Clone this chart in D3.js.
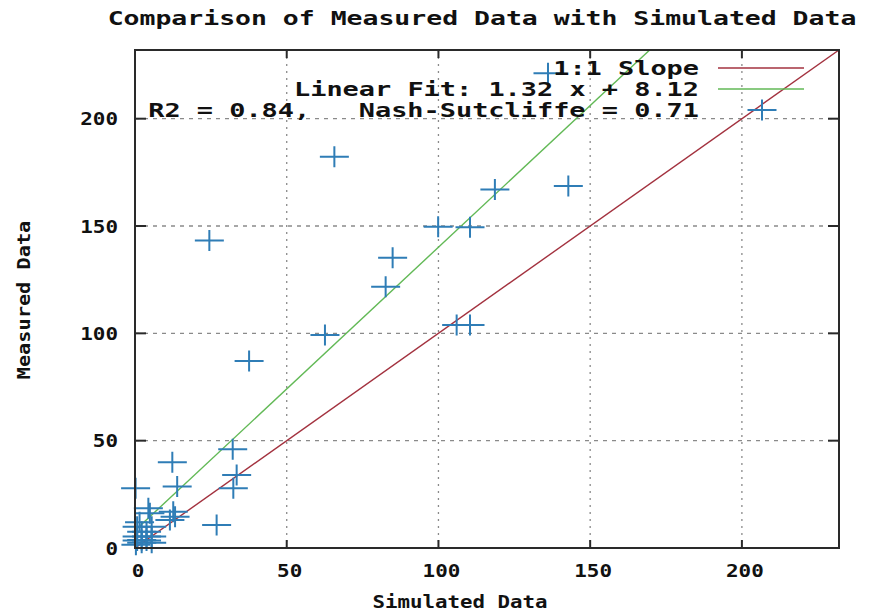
<!DOCTYPE html>
<html><head><meta charset="utf-8">
<script src="https://cdn.jsdelivr.net/npm/d3@7"></script>
<style>body{margin:0;background:#fff}text{font-family:"DejaVu Sans Mono",monospace;font-weight:bold;fill:#111;white-space:pre}</style>
</head><body><svg id="c" width="870" height="612"></svg>
<script>
const titleText = "Comparison of Measured Data with Simulated Data";
const xLabel = "Simulated Data";
const yLabel = "Measured Data";
const xTicks = [0, 50, 100, 150, 200];
const yTicks = [0, 50, 100, 150, 200];
const simulated = [136.1, 65.7, 24.5, 99.9, 110.4, 84.9, 82.6, 62.6, 37.6, 106.0, 110.4, 118.6, 142.8,
  32.2, 33.5, 32.4, 26.9, 12.3, 13.9, 0.2, 12.6, 13.2, 4.4, 4.9, 11.5,
  0.7, 2.2, 3.8, 5.5, 0.7, 2.2, 3.8, 5.5, 0.7, 2.2, 3.8, 0.3, 5.5, 1.5];
const measured = [221.2, 182.3, 143.2, 149.7, 149.4, 135.2, 121.7, 99.2, 87.1, 103.9, 103.9, 167.0, 168.6,
  46.0, 34.0, 27.8, 10.7, 39.9, 28.6, 27.8, 16.9, 14.6, 18.5, 16.2, 13.0,
  3.5, 3.7, 3.5, 2.5, 5.3, 7.6, 5.3, 9.9, 9.9, 2.5, 7.6, 1.5, 5.3, 12.0];
const fitSlope = 1.32, fitIntercept = 8.12;
const legendLabels = ["1:1 Slope", "Linear Fit: 1.32 x + 8.12", "R2 = 0.84,   Nash-Sutcliffe = 0.71"];
const axisMax = 232;

const svg = d3.select("#c");
const L = 135, R = 839, T = 50, B = 548;
const x = d3.scaleLinear().domain([0, axisMax]).range([L, R]);
const y = d3.scaleLinear().domain([0, axisMax]).range([B, T]);
const red = "#a3323f", green = "#62b956", blue = "#2f7db6";

function txt(s, px, py, anchor, size, ch) {
  return svg.append("text").attr("x", px).attr("y", py).attr("font-size", size)
    .attr("text-anchor", anchor).attr("textLength", s.length * ch)
    .attr("lengthAdjust", "spacingAndGlyphs").text(s);
}

// grid
svg.append("g").selectAll("line").data(xTicks.filter(d => d > 0)).join("line")
  .attr("x1", d => x(d)).attr("x2", d => x(d)).attr("y1", T).attr("y2", B)
  .attr("stroke", "#8a8a8a").attr("stroke-width", 1.3).attr("stroke-dasharray", "2,5");
svg.append("g").selectAll("line").data(yTicks.filter(d => d > 0)).join("line")
  .attr("y1", d => y(d)).attr("y2", d => y(d)).attr("x1", L).attr("x2", R)
  .attr("stroke", "#8a8a8a").attr("stroke-width", 1.3).attr("stroke-dasharray", "4,5");

// lines
svg.append("clipPath").attr("id", "clip").append("rect").attr("x", L).attr("y", T).attr("width", R - L).attr("height", B - T);
const g = svg.append("g").attr("clip-path", "url(#clip)");
const line = d3.line().x(d => x(d[0])).y(d => y(d[1]));
g.append("path").attr("d", line([[0, 0], [axisMax, axisMax]])).attr("stroke", red).attr("stroke-width", 1.4).attr("fill", "none");
g.append("path").attr("d", line([[0, fitIntercept], [axisMax, fitSlope * axisMax + fitIntercept]])).attr("stroke", green).attr("stroke-width", 1.4).attr("fill", "none");

// points
const pts = simulated.map((s, i) => [s, measured[i]]);
const cross = (sel) => sel.attr("d", d => `M${x(d[0]) - 14.5},${y(d[1])}h29M${x(d[0])},${y(d[1]) - 10.5}v21`)
  .attr("stroke", blue).attr("stroke-width", 2).attr("fill", "none");
svg.append("g").selectAll("path").data(pts).join("path").call(cross);

// frame and ticks
svg.append("rect").attr("x", L).attr("y", T).attr("width", R - L).attr("height", B - T)
  .attr("fill", "none").attr("stroke", "#2a2a2a").attr("stroke-width", 2);
const tk = svg.append("g").attr("stroke", "#2a2a2a").attr("stroke-width", 2);
xTicks.filter(d => d > 0).forEach(d => {
  tk.append("line").attr("x1", x(d)).attr("x2", x(d)).attr("y1", B).attr("y2", B - 8);
  tk.append("line").attr("x1", x(d)).attr("x2", x(d)).attr("y1", T).attr("y2", T + 8);
});
yTicks.filter(d => d > 0).forEach(d => {
  tk.append("line").attr("y1", y(d)).attr("y2", y(d)).attr("x1", L).attr("x2", L + 11);
  tk.append("line").attr("y1", y(d)).attr("y2", y(d)).attr("x1", R).attr("x2", R - 11);
});

// tick labels
xTicks.forEach(d => txt(String(d), x(d) + 3, 577, "middle", 18, 12.6));
yTicks.forEach(d => txt(String(d), 118, y(d) + 6.5, "end", 18, 12.6));

// axis titles
txt(titleText, 482, 25, "middle", 19, 15.93);
txt(xLabel, 460, 608, "middle", 18, 12.5);
txt(yLabel, 0, 0, "middle", 18, 12.2).attr("transform", `translate(30,300) rotate(-90)`);

// legend
const rows = [68, 89, 110];
legendLabels.forEach((s, i) => txt(s, 699, rows[i] + 6.5, "end", 19, 16.2));
svg.append("line").attr("x1", 718).attr("x2", 804).attr("y1", rows[0]).attr("y2", rows[0]).attr("stroke", red).attr("stroke-width", 1.4);
svg.append("line").attr("x1", 718).attr("x2", 804).attr("y1", rows[1]).attr("y2", rows[1]).attr("stroke", green).attr("stroke-width", 1.4);
svg.append("path").attr("d", `M${762 - 14.5},${rows[2]}h29M762,${rows[2] - 10.5}v21`).attr("stroke", blue).attr("stroke-width", 2).attr("fill", "none");
</script></body></html>
